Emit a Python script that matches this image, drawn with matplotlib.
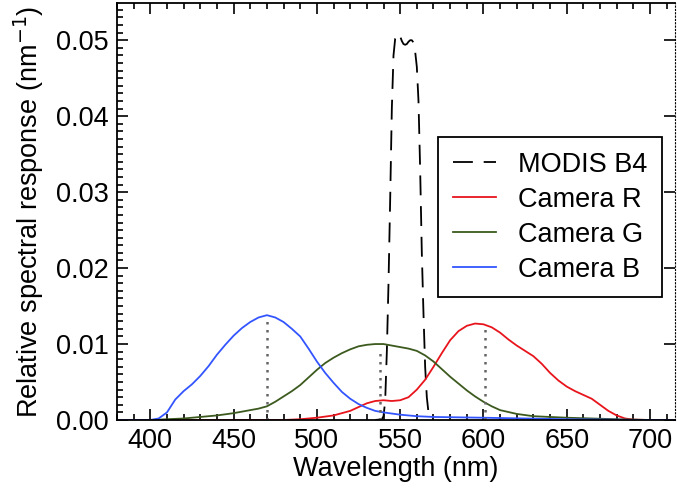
import numpy as np
import matplotlib
matplotlib.use('Agg')
import matplotlib.pyplot as plt
from matplotlib.ticker import MultipleLocator

plt.rcParams['font.family'] = ['Liberation Sans', 'DejaVu Sans']

# MODIS band 4 relative spectral response
modis_wl = [535, 539, 540, 541, 542, 543, 544, 545, 546, 547, 548, 549, 550, 551, 552,
            553, 554, 555, 556, 557, 558, 559, 560, 561, 562, 563, 564, 565, 566, 567,
            568, 570]
modis_val = [0.0, 0.0001, 0.0005, 0.0025, 0.009, 0.018, 0.029, 0.041, 0.048, 0.0502,
             0.0506, 0.0509, 0.0505, 0.0499, 0.0495, 0.0494, 0.0495, 0.0498, 0.0500,
             0.0500, 0.0497, 0.0485, 0.0465, 0.042, 0.033, 0.022, 0.014, 0.007, 0.003,
             0.001, 0.0002, 0.0]

# camera channels
blue_wl = [380, 400, 405, 410, 415, 420, 425, 430, 435, 440, 445, 450, 455, 460, 465,
           470, 475, 480, 485, 490, 495, 500, 505, 510, 515, 520, 525, 530, 535, 540,
           550, 560, 570, 600, 650, 700, 715]
blue_val = [0.0, 0.0, 0.0002, 0.001, 0.0027, 0.0038, 0.0047, 0.0058, 0.0071, 0.0086,
            0.0099, 0.0111, 0.0121, 0.0129, 0.0135, 0.0138, 0.0135, 0.0129, 0.0120,
            0.0110, 0.0094, 0.0077, 0.0062, 0.0049, 0.0037, 0.0028, 0.0021, 0.0016,
            0.0012, 0.0010, 0.0007, 0.0005, 0.0004, 0.0003, 0.0001, 0.0, 0.0]

green_wl = [380, 400, 410, 420, 430, 440, 450, 460, 465, 470, 475, 480, 485, 490, 495,
            500, 505, 510, 515, 520, 525, 530, 535, 540, 545, 550, 555, 560, 565, 570,
            575, 580, 585, 590, 595, 600, 605, 610, 620, 630, 650, 680, 700, 715]
green_val = [0.0, 0.0, 0.0001, 0.0002, 0.0004, 0.0006, 0.0009, 0.0013, 0.0015, 0.0018,
             0.0024, 0.0031, 0.0038, 0.0046, 0.0056, 0.0066, 0.0075, 0.0082, 0.0088,
             0.0093, 0.0097, 0.0099, 0.0100, 0.0100, 0.0098, 0.0096, 0.0094, 0.0091,
             0.0085, 0.0077, 0.0067, 0.0057, 0.0048, 0.0039, 0.0031, 0.0024, 0.0018,
             0.0013, 0.0008, 0.0005, 0.0003, 0.0001, 0.0, 0.0]

red_wl = [380, 480, 490, 500, 510, 515, 520, 525, 530, 535, 540, 545, 550, 555, 560,
          565, 570, 575, 580, 585, 590, 595, 600, 605, 610, 615, 620, 625, 630, 635,
          640, 645, 650, 655, 660, 665, 670, 675, 680, 685, 690, 700, 715]
red_val = [0.0, 0.0, 0.0001, 0.0003, 0.0006, 0.0009, 0.0012, 0.0017, 0.0022, 0.0025,
           0.0026, 0.0025, 0.0026, 0.0030, 0.0040, 0.0053, 0.0070, 0.0088, 0.0105,
           0.0117, 0.0124, 0.0127, 0.0126, 0.0122, 0.0115, 0.0106, 0.0098, 0.0091,
           0.0084, 0.0074, 0.0062, 0.0052, 0.0044, 0.0038, 0.0033, 0.0028, 0.0020,
           0.0012, 0.0006, 0.0002, 0.00005, 0.0, 0.0]

# centre wavelengths marked with dotted lines
center_wl = [470, 538, 601]
center_top = [0.0136, 0.0092, 0.0125]

fig = plt.figure(figsize=(6.77, 4.96), dpi=100)
ax = fig.add_axes([117 / 677, (496 - 420) / 496, 558 / 677, 417 / 496])

ax.plot(modis_wl, modis_val, color='black', lw=1.3, dashes=(11, 6), label='MODIS B4')
ax.plot(red_wl, red_val, color='#e8141c', lw=1.3, label='Camera R')
ax.plot(green_wl, green_val, color='#3c5a1e', lw=1.3, label='Camera G')
ax.plot(blue_wl, blue_val, color='#3355ff', lw=1.3, label='Camera B')
for wl, top in zip(center_wl, center_top):
    ax.plot([wl, wl], [0, top], color='#666666', lw=1.8, ls=(0, (1, 2.2)))

ax.set_xlim(380, 715)
ax.set_ylim(0, 0.0549)
ax.xaxis.set_major_locator(MultipleLocator(50))
ax.xaxis.set_minor_locator(MultipleLocator(10))
ax.yaxis.set_major_locator(MultipleLocator(0.01))
ax.yaxis.set_minor_locator(MultipleLocator(0.001))
ax.yaxis.set_major_formatter(matplotlib.ticker.FormatStrFormatter('%.2f'))
ax.tick_params(which='both', direction='in', top=True, labelsize=19.5, width=1.2)
ax.tick_params(which='major', length=8, pad=6, right=True)
ax.tick_params(which='minor', length=4, right=False)
ax.spines['right'].set_linestyle((0, (1, 2)))
for s in ['left', 'top', 'bottom']:
    ax.spines[s].set_linewidth(1.3)

ax.set_xlabel('Wavelength (nm)', fontsize=19.5, labelpad=1)
ax.set_ylabel('Relative spectral response (nm$^{-1}$)', fontsize=19.5, labelpad=7)

leg = ax.legend(loc='upper right', bbox_to_anchor=(0.977, 0.679), fontsize=19.5,
                handlelength=1.6, handletextpad=0.8, labelspacing=0.33,
                borderpad=0.55, borderaxespad=0, fancybox=False, framealpha=1,
                edgecolor='black')
leg.get_frame().set_linewidth(1.3)

plt.savefig('out.png', dpi=100)
